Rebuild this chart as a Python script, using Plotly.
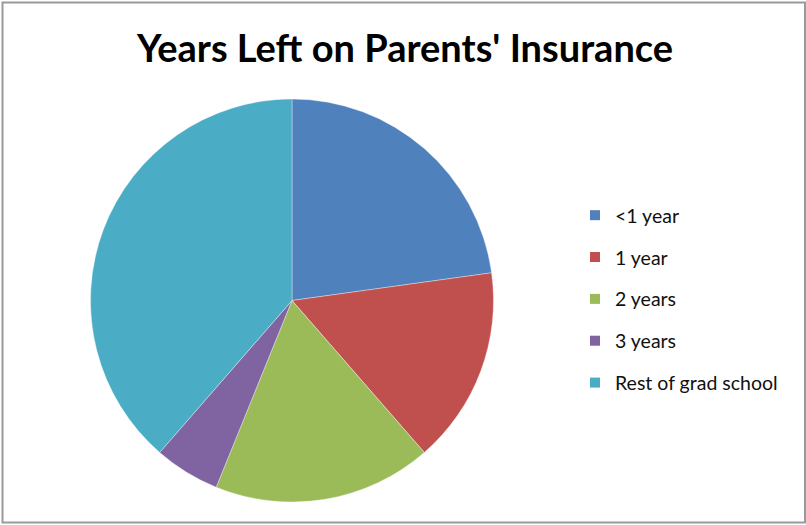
import plotly.graph_objects as go

# Survey responses: how long respondents stay on a parent's health plan
labels = ["<1 year", "1 year", "2 years", "3 years", "Rest of grad school"]
counts = [13, 9, 10, 3, 22]
colors = ["#4F81BD", "#C0504D", "#9BBB59", "#8064A2", "#4BACC6"]

W, H = 806, 525

fig = go.Figure()

fig.add_trace(go.Pie(
    labels=labels,
    values=counts,
    sort=False,
    direction="clockwise",
    rotation=0,
    textinfo="none",
    hoverinfo="skip",
    showlegend=False,
    marker=dict(colors=colors, line=dict(color="rgba(255,255,255,0.6)", width=0.6)),
    domain=dict(x=[90.5 / W, 493.5 / W], y=[(H - 502) / H, (H - 99) / H]),
))

# Legend entries, one group per category so the rows can be spaced apart
for i, (lab, col) in enumerate(zip(labels, colors)):
    fig.add_trace(go.Scatter(
        x=[None], y=[None],
        mode="markers",
        name=lab,
        legendgroup=f"g{i}",
        marker=dict(symbol="square", size=10, color=col),
        hoverinfo="skip",
    ))

fig.update_layout(
    width=W, height=H,
    margin=dict(l=0, r=0, t=0, b=0),
    paper_bgcolor="white",
    plot_bgcolor="white",
    xaxis=dict(visible=False),
    yaxis=dict(visible=False),
    title=dict(
        text="<b>Years Left on Parents' Insurance</b>",
        x=405 / W, xanchor="center",
        y=1 - 49 / H, yanchor="middle",
        font=dict(family="Lato", size=38, color="black"),
    ),
    legend=dict(
        x=575 / W, xanchor="left",
        y=1 - 196 / H, yanchor="top",
        font=dict(family="Lato", size=19.5, color="#111111"),
        tracegroupgap=13.5,
        bgcolor="rgba(0,0,0,0)",
        itemsizing="trace",
    ),
    shapes=[
        dict(type="rect", xref="paper", yref="paper",
             x0=2.5 / W, x1=805 / W, y0=1 - 522.5 / H, y1=1 - 2.5 / H,
             line=dict(color="#9a9a9a", width=2)),
    ],
)

fig.write_html("out.html")
